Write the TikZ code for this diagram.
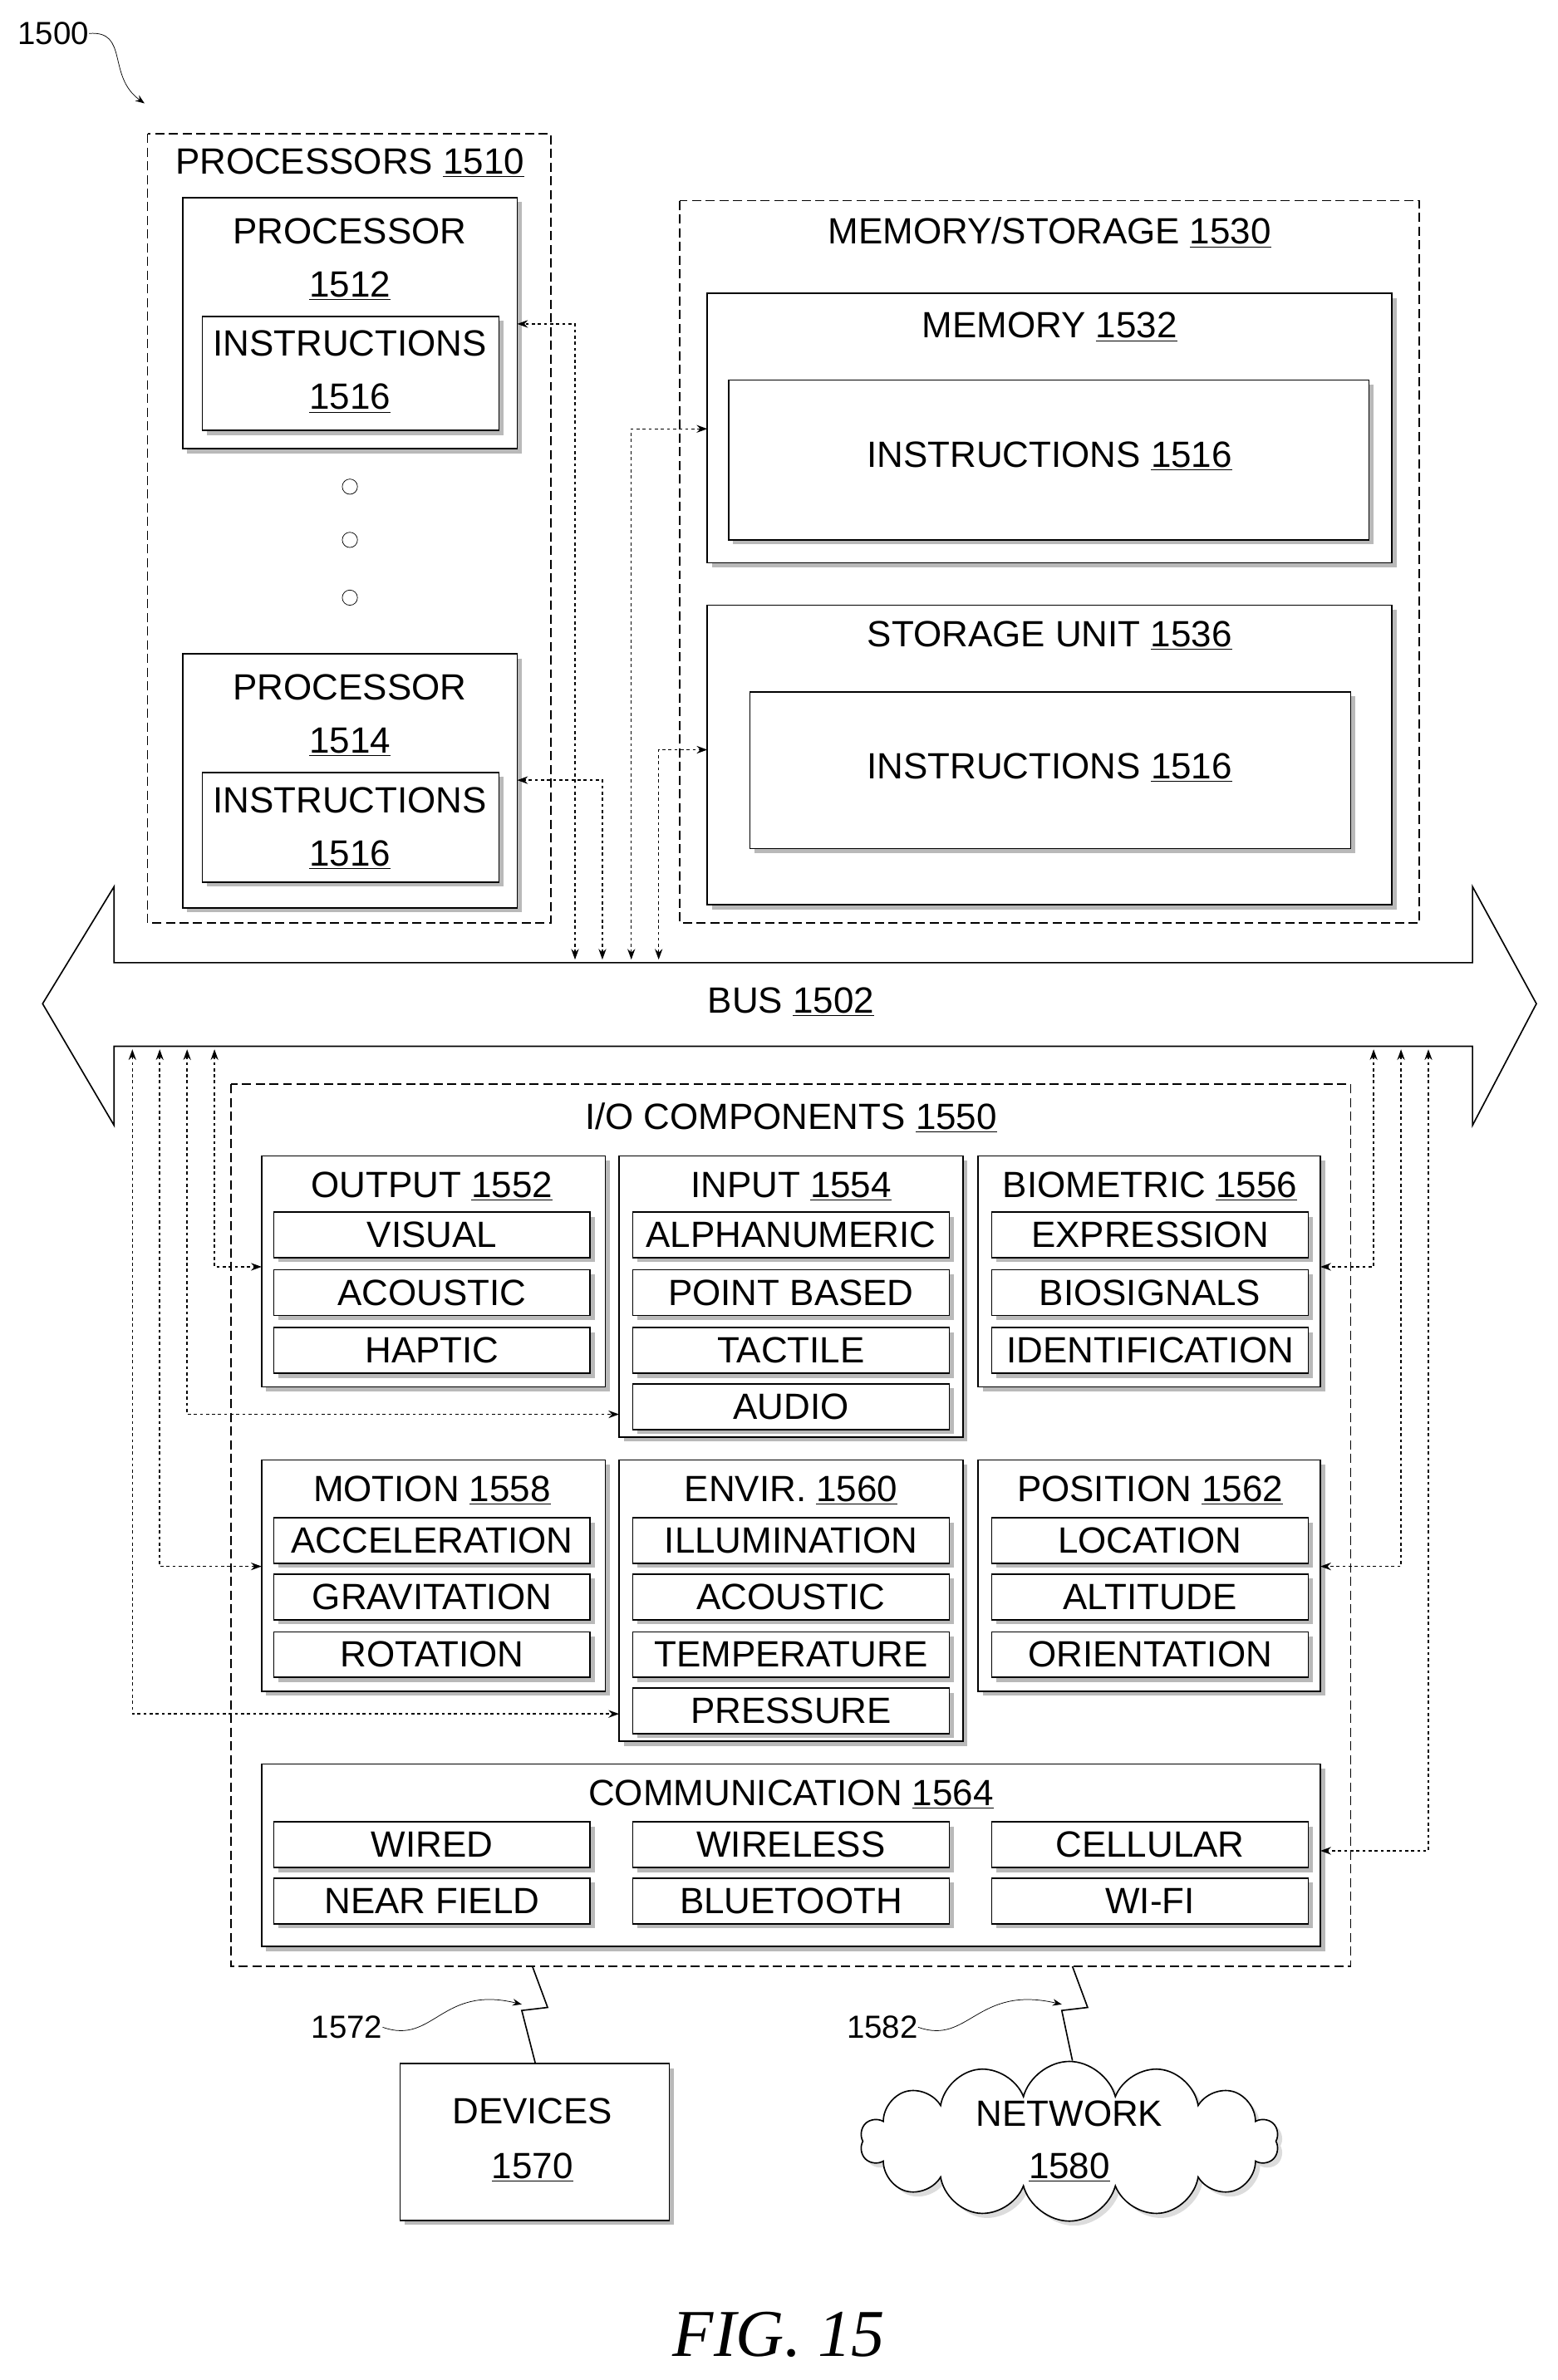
\documentclass[tikz,border=0pt]{standalone}
\usepackage{fontspec}
\setmainfont{Liberation Sans}
\newfontfamily\serif{Liberation Serif}
\usetikzlibrary{arrows.meta,shapes.symbols,shadows}
\newcommand\shbox[4]{\fill[gray!55] (#1+3,#2+3) rectangle (#3+3,#4+3); \draw[fill=white,line width=0.9pt] (#1,#2) rectangle (#3,#4);}
\newcommand\itm[4]{\shbox{#1-#3/2}{#2-15}{#1+#3/2}{#2+15}\node[txt] at (#1,#2) {#4};}
\begin{document}
\begin{tikzpicture}[x=1pt,y=-1pt,
 txt/.style={font=\fontsize{24}{26}\selectfont,inner sep=0},
 dsh/.style={draw,dash pattern=on 6pt off 3pt,line width=0.9pt},
 con/.style={dash pattern=on 2pt off 2pt,line width=0.8pt,{Stealth[length=7pt,width=5pt]}-{Stealth[length=7pt,width=5pt]}}]
\useasboundingbox (0,0) rectangle (1024,1565);
% label 1500
\node[txt,font=\fontsize{21}{22}\selectfont] (l1500) at (35,22) {1500};
\draw[-{Stealth[length=6pt]}] (l1500.east) .. controls (85,20) and (70,50) .. (95,68);
% processors
\draw[dsh] (97,88) rectangle (362,607);
\node[txt] (procs) at (230,107) {PROCESSORS \underline{1510}};
\shbox{120}{130}{340}{295}
\node[txt] at (230,152) {PROCESSOR};
\node[txt] at (230,188) {\underline{1512}};
\shbox{133}{208}{328}{283}
\node[txt] at (230,226) {INSTRUCTIONS};
\node[txt] at (230,262) {\underline{1516}};
\foreach \y in {320,355,393} \draw (230,\y) circle (5);
\shbox{120}{430}{340}{597}
\node[txt] at (230,452) {PROCESSOR};
\node[txt] at (230,488) {\underline{1514}};
\shbox{133}{508}{328}{580}
\node[txt] at (230,526) {INSTRUCTIONS};
\node[txt] at (230,562) {\underline{1516}};
% memory
\draw[dsh] (447,132) rectangle (933,607);
\node[txt] at (690,153) {MEMORY/STORAGE \underline{1530}};
\shbox{465}{193}{915}{370}
\node[txt] at (690,215) {MEMORY \underline{1532}};
\shbox{479}{250}{900}{355}
\node[txt] at (690,300) {INSTRUCTIONS \underline{1516}};
\shbox{465}{398}{915}{595}
\node[txt] at (690,418) {STORAGE UNIT \underline{1536}};
\shbox{493}{455}{888}{558}
\node[txt] at (690,505) {INSTRUCTIONS \underline{1516}};
% bus
\draw[line width=0.9pt,fill=white] (75,633)--(75,583)--(28,660)--(75,740)--(75,688)--(968,688)--(968,740)--(1010,660)--(968,583)--(968,633)--cycle;
\node[txt] (bus) at (520,659) {BUS \underline{1502}};
\draw[con] (378,631) |- (340,213);
\draw[con] (396,631) |- (340,513);
\draw[con] (415,631) |- (465,282);
\draw[con] (433,631) |- (465,493);
% IO
\draw[dsh] (152,713) rectangle (888,1293);
\node[txt] at (520,735) {I/O COMPONENTS \underline{1550}};
\shbox{172}{760}{398}{912}\node[txt] at (284,780) {OUTPUT \underline{1552}};
\itm{284}{812}{208}{VISUAL}\itm{284}{850}{208}{ACOUSTIC}\itm{284}{888}{208}{HAPTIC}
\shbox{407}{760}{633}{945}\node[txt] at (520,780) {INPUT \underline{1554}};
\itm{520}{812}{208}{ALPHANUMERIC}\itm{520}{850}{208}{POINT BASED}\itm{520}{888}{208}{TACTILE}\itm{520}{925}{208}{AUDIO}
\shbox{643}{760}{868}{912}\node[txt] at (756,780) {BIOMETRIC \underline{1556}};
\itm{756}{812}{208}{EXPRESSION}\itm{756}{850}{208}{BIOSIGNALS}\itm{756}{888}{208}{IDENTIFICATION}
\shbox{172}{960}{398}{1112}\node[txt] at (284,980) {MOTION \underline{1558}};
\itm{284}{1013}{208}{ACCELERATION}\itm{284}{1050}{208}{GRAVITATION}\itm{284}{1088}{208}{ROTATION}
\shbox{407}{960}{633}{1145}\node[txt] at (520,980) {ENVIR. \underline{1560}};
\itm{520}{1013}{208}{ILLUMINATION}\itm{520}{1050}{208}{ACOUSTIC}\itm{520}{1088}{208}{TEMPERATURE}\itm{520}{1125}{208}{PRESSURE}
\shbox{643}{960}{868}{1112}\node[txt] at (756,980) {POSITION \underline{1562}};
\itm{756}{1013}{208}{LOCATION}\itm{756}{1050}{208}{ALTITUDE}\itm{756}{1088}{208}{ORIENTATION}
\shbox{172}{1160}{868}{1280}\node[txt] at (520,1180) {COMMUNICATION \underline{1564}};
\itm{284}{1213}{208}{WIRED}\itm{520}{1213}{208}{WIRELESS}\itm{756}{1213}{208}{CELLULAR}
\itm{284}{1250}{208}{NEAR FIELD}\itm{520}{1250}{208}{BLUETOOTH}\itm{756}{1250}{208}{WI-FI}
% left/right connectors
\draw[con] (141,690) |- (172,833);
\draw[con] (123,690) |- (407,930);
\draw[con] (105,690) |- (172,1030);
\draw[con] (87,690) |- (407,1127);
\draw[con] (903,690) |- (868,833);
\draw[con] (921,690) |- (868,1030);
\draw[con] (939,690) |- (868,1217);
% devices & network
\shbox{263}{1357}{440}{1460}
\node[txt] (dev) at (350,1388) {DEVICES};
\node[txt] at (350,1425) {\underline{1570}};
\node[cloud,draw,line width=0.9pt,fill=white,minimum width=275pt,minimum height=105pt,cloud puffs=14,aspect=2.6,drop shadow={fill=gray!55,shadow xshift=3pt,shadow yshift=-3pt}] (net) at (703,1408) {};
\node[txt] at (703,1390) {NETWORK};
\node[txt] at (703,1425) {\underline{1580}};
\draw[line width=0.9pt] (350,1293)--(360,1320)--(343,1322)--(352,1357);
\draw[line width=0.9pt] (705,1293)--(715,1320)--(698,1322)--(705,1355);
\node[txt,font=\fontsize{21}{22}\selectfont] (l1572) at (228,1333) {1572};
\draw[-{Stealth[length=6pt]}] (l1572.east) .. controls (285,1345) and (290,1305) .. (343,1318);
\node[txt,font=\fontsize{21}{22}\selectfont] (l1582) at (580,1333) {1582};
\draw[-{Stealth[length=6pt]}] (l1582.east) .. controls (637,1345) and (642,1305) .. (698,1318);
\node[font=\serif\itshape\fontsize{44}{48}\selectfont] (fig) at (512,1535) {FIG. 15};
\end{tikzpicture}
\end{document}
